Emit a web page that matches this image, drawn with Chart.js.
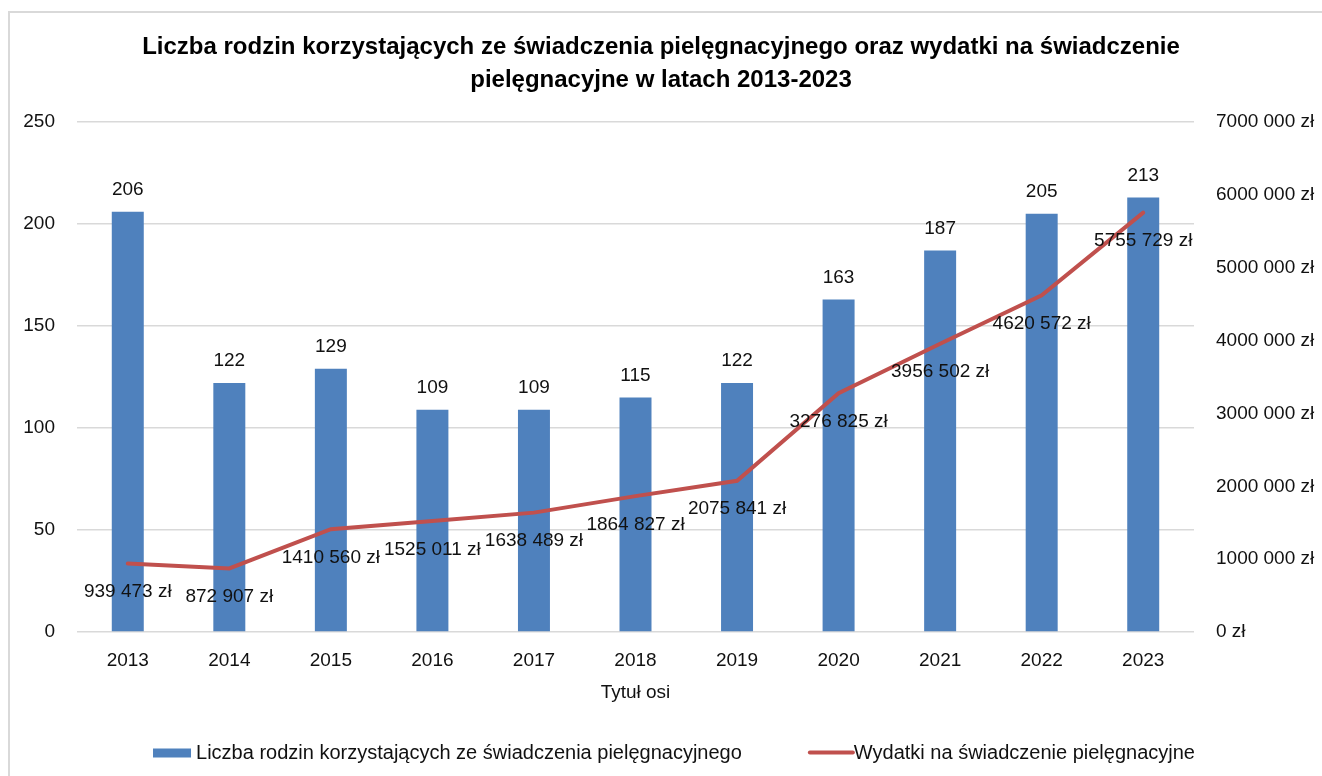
<!DOCTYPE html>
<html><head><meta charset="utf-8">
<script src="https://cdn.jsdelivr.net/npm/chart.js@4.4.0/dist/chart.umd.min.js"></script>
<style>
html,body{margin:0;padding:0;background:#fff;overflow:hidden;width:1322px;height:776px}
#frame{position:absolute;left:8px;top:11px;width:1400px;height:900px;border:2px solid #d9d9d9;box-sizing:border-box}
#wrap{position:absolute;left:0;top:0;width:1322px;height:776px}
</style></head><body>
<div id="frame"></div>
<div id="wrap"><canvas id="c" width="1322" height="776"></canvas></div>
<script>
const years = ['2013','2014','2015','2016','2017','2018','2019','2020','2021','2022','2023'];
const families = [206,122,129,109,109,115,122,163,187,205,213];
const expenses = [939473,872907,1410560,1525011,1638489,1864827,2075841,3276825,3956502,4620572,5755729];
const familiesLabel = 'Liczba rodzin korzystających ze świadczenia pielęgnacyjnego';
const expensesLabel = 'Wydatki na świadczenie pielęgnacyjne';
const titleLines = ['Liczba rodzin korzystających ze świadczenia pielęgnacyjnego oraz wydatki na świadczenie', 'pielęgnacyjne w latach 2013-2023'];
const xTitle = 'Tytuł osi';
const leftAxis = {min:0, max:250, step:50};
const rightAxis = {min:0, max:7000000, step:1000000};

const FONT = '"Liberation Sans", Arial, sans-serif';
const BLUE = '#4F81BD', RED = '#C0504D', GRID = '#d9d9d9', TXT = '#111';

function zl(v){
  v = Math.round(v);
  if (v < 1000) return v + ' zł';
  return Math.floor(v/1000) + ' ' + String(v%1000).padStart(3,'0') + ' zł';
}

const valueLabels = {
  id:'valueLabels',
  afterDatasetsDraw(chart){
    const ctx = chart.ctx;
    ctx.save();
    ctx.font = '19px ' + FONT;
    ctx.fillStyle = TXT;
    ctx.textAlign = 'center';
    ctx.textBaseline = 'middle';
    const barMeta = chart.getDatasetMeta(1);
    barMeta.data.forEach((el,i)=>{ ctx.fillText(String(families[i]), el.x, el.y - 22); });
    const lineMeta = chart.getDatasetMeta(0);
    lineMeta.data.forEach((el,i)=>{ ctx.fillText(zl(expenses[i]), el.x, el.y + 28.5); });
    ctx.restore();
  }
};

const customLegend = {
  id:'customLegend',
  afterDraw(chart){
    const ctx = chart.ctx;
    ctx.save();
    ctx.font = '20px ' + FONT;
    ctx.textBaseline = 'middle';
    ctx.textAlign = 'left';
    const y = 753;
    const boxW = 38, boxH = 9, gap1 = 5, lineW = 43, gap2 = 1, itemGap = 68;
    const t1 = ctx.measureText(familiesLabel).width;
    const t2 = ctx.measureText(expensesLabel).width;
    const total = boxW + gap1 + t1 + itemGap + lineW + gap2 + t2;
    let x = 674 - total/2;
    ctx.fillStyle = BLUE;
    ctx.fillRect(x, y - boxH/2, boxW, boxH);
    x += boxW + gap1;
    ctx.fillStyle = TXT;
    ctx.fillText(familiesLabel, x, y);
    x += t1 + itemGap;
    ctx.strokeStyle = RED;
    ctx.lineWidth = 4;
    ctx.lineCap = 'round';
    ctx.beginPath(); ctx.moveTo(x, y - 0.5); ctx.lineTo(x + lineW, y - 0.5); ctx.stroke();
    x += lineW + gap2;
    ctx.fillStyle = TXT;
    ctx.fillText(expensesLabel, x, y);
    ctx.restore();
  }
};

new Chart(document.getElementById('c'), {
  data: {
    labels: years,
    datasets: [
      { type:'line', label: expensesLabel, data: expenses, yAxisID:'y1', borderColor: RED, backgroundColor: RED,
        borderWidth: 4, pointRadius: 0, pointHoverRadius: 0, tension: 0, order: 0, borderCapStyle:'round' },
      { type:'bar', label: familiesLabel, data: families, yAxisID:'y', backgroundColor: BLUE,
        categoryPercentage: 1, barPercentage: 0.315, order: 1 }
    ]
  },
  options: {
    responsive: false,
    animation: false,
    layout: { padding: { top: 0, left: 0, right: 0, bottom: 0 } },
    plugins: {
      legend: { display: false },
      tooltip: { enabled: false },
      title: { display: true, text: titleLines, color: '#000',
        font: { family: FONT, size: 24, weight: 'bold', lineHeight: 1.375 },
        padding: { top: 30.5, bottom: 25.5 } }
    },
    scales: {
      x: {
        grid: { display: false, drawTicks: false },
        border: { display: false },
        ticks: { color: TXT, font: { family: FONT, size: 19 }, padding: 17 },
        title: { display: true, text: xTitle, color: TXT, font: { family: FONT, size: 19 }, padding: { top: 0, bottom: 71.6 } },
        afterFit(s){ s.height = 144; }
      },
      y: {
        position: 'left', min: leftAxis.min, max: leftAxis.max,
        grid: { color: GRID, lineWidth: 1.5, drawTicks: false },
        border: { display: false },
        ticks: { stepSize: leftAxis.step, color: TXT, font: { family: FONT, size: 19 }, padding: 22 },
        afterFit(s){ s.width = 77; }
      },
      y1: {
        position: 'right', min: rightAxis.min, max: rightAxis.max,
        grid: { drawOnChartArea: false, drawTicks: false },
        border: { display: false },
        ticks: { stepSize: rightAxis.step, color: TXT, font: { family: FONT, size: 19 }, padding: 22, callback: v => zl(v) },
        afterFit(s){ s.width = 128; }
      }
    }
  },
  plugins: [valueLabels, customLegend]
});
</script>
</body></html>
